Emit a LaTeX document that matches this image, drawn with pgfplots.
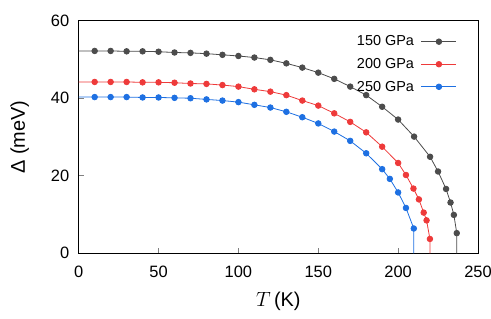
\documentclass[border=0pt]{standalone}
\usepackage{pgfplots}
\pgfplotsset{compat=1.18}
\usepackage{fontspec}
\setmainfont{Liberation Sans}
\definecolor{cgray}{RGB}{76,76,76}
\definecolor{cred}{RGB}{238,58,58}
\definecolor{cblue}{RGB}{30,112,226}
\begin{document}
\begin{tikzpicture}
\begin{axis}[name=ax,
  scale only axis,
  width=399.3bp, height=232.6bp,
  xmin=0, xmax=250, ymin=0, ymax=60,
  xtick={0,50,100,150,200,250},
  ytick={0,20,40,60},
  tick align=inside,
  xtick pos=bottom, ytick pos=left,
  major tick length=5bp,
  tick style={gray, line width=0.8bp},
  axis line style={line width=0.9bp},
  /pgf/number format/assume math mode=true,
  tick label style={font=\fontsize{16.5}{18}\selectfont},
  xticklabel style={yshift=-9bp},
  yticklabel style={xshift=-6bp},
  xlabel={$T$\,(K)},
  ylabel={Δ (meV)},
  label style={font=\fontsize{20}{22}\selectfont},
  xlabel style={yshift=-8bp},
  ylabel style={yshift=15bp},
  legend style={at={(1,1)}, anchor=north east, xshift=-18bp, yshift=-11bp,
    draw=none, fill=none, font=\fontsize{14.5}{17}\selectfont,
    row sep=7bp, column sep=5bp, legend cell align=right},
  legend plot pos=right,
  legend image code/.code={\draw[mark indices={2}] plot coordinates {(0bp,0bp) (17.5bp,0bp) (35bp,0bp)};},
  every axis plot/.append style={line width=0.8bp, mark=*, mark size=2.8bp},
]
\addplot[color=cgray, mark options={fill=cgray, draw=cgray}, mark indices={2,...,28}] coordinates {
(0,52.2) (10,52.2) (20,52.2) (30,52.1) (40,52.1) (50,52.0) (60,51.8) (70,51.7) (80,51.5) (90,51.2) (100,50.9) (110,50.5) (120,49.9) (130,49.0) (140,47.9) (150,46.6) (160,45.0) (170,43.0) (180,40.8) (190,37.8) (200,34.5) (210,30.1) (220,24.9) (225,21.1) (230,16.6) (232.8,13.1) (234.9,9.9) (236.7,5.2) (236.7,0)
};
\addlegendentry{150 GPa}
\addplot[color=cred, mark options={fill=cred, draw=cred}, mark indices={2,...,27}] coordinates {
(0,44.2) (10,44.2) (20,44.2) (30,44.2) (40,44.1) (50,44.1) (60,44.0) (70,43.8) (80,43.7) (90,43.4) (100,43.0) (110,42.3) (120,41.7) (130,40.8) (140,39.4) (150,38.1) (160,36.1) (170,33.9) (180,31.2) (190,27.5) (200,23.3) (204.9,20.2) (209.6,16.7) (213,13.9) (216,10.5) (217.8,8.5) (219.9,3.7) (219.9,0)
};
\addlegendentry{200 GPa}
\addplot[color=cblue, mark options={fill=cblue, draw=cblue}, mark indices={2,...,24}] coordinates {
(0,40.3) (10,40.3) (20,40.3) (30,40.3) (40,40.2) (50,40.2) (60,40.1) (70,40.0) (80,39.7) (90,39.4) (100,39.0) (110,38.3) (120,37.6) (130,36.5) (140,35.1) (150,33.5) (160,31.4) (170,29.0) (180,25.8) (190,21.7) (194.8,19.2) (200,15.7) (204.9,11.7) (209.8,6.4) (209.8,0)
};
\addlegendentry{250 GPa}
\end{axis}
\pgfresetboundingbox
\path[use as bounding box] (-78.7bp,-65.7bp) rectangle (412.3bp,253.3bp);
\end{tikzpicture}
\end{document}
